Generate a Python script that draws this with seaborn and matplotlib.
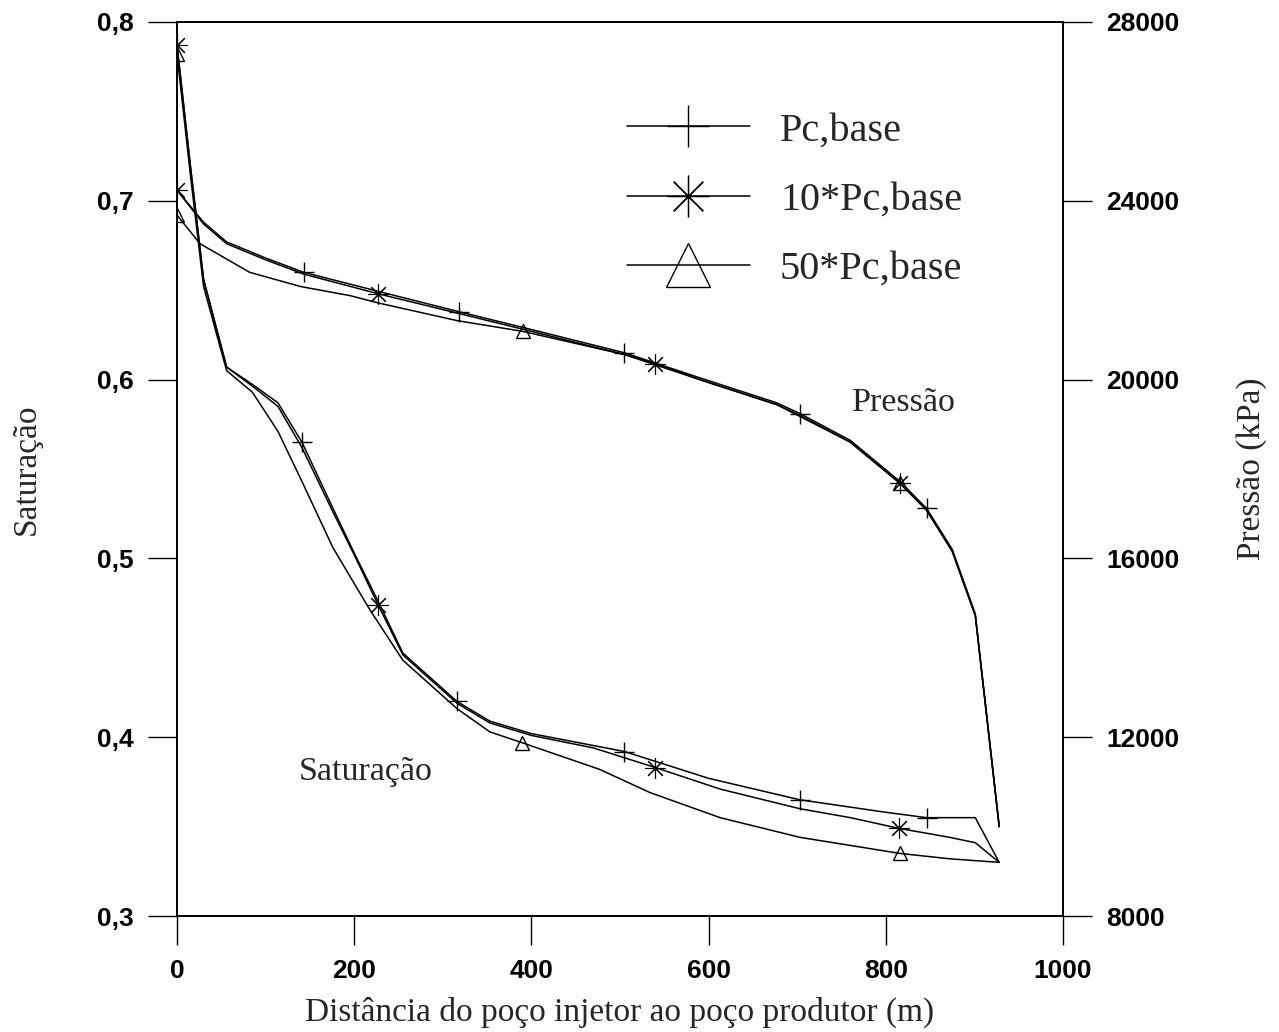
import numpy as np
import pandas as pd
import matplotlib
matplotlib.use("Agg")
import matplotlib.pyplot as plt
from matplotlib.lines import Line2D
from matplotlib.ticker import FixedLocator, FuncFormatter
from matplotlib.font_manager import FontProperties
import seaborn as sns

# --- Saturação (eixo esquerdo) ---
sat_base_x = [0, 15, 30, 56, 86, 114, 141, 176, 200, 227, 255, 316, 353, 400, 505, 600, 703, 800, 846, 901, 928]
sat_base_y = [0.787, 0.720, 0.656, 0.607, 0.597, 0.587, 0.565, 0.528, 0.503, 0.476, 0.447, 0.420, 0.409, 0.402,
              0.392, 0.377, 0.365, 0.358, 0.355, 0.355, 0.330]

sat_10_x = [0, 15, 30, 56, 86, 114, 141, 176, 200, 227, 255, 316, 353, 400, 470, 540, 613, 703, 760, 815, 872, 901, 928]
sat_10_y = [0.787, 0.720, 0.656, 0.607, 0.596, 0.585, 0.562, 0.526, 0.502, 0.474, 0.446, 0.419, 0.408, 0.401,
            0.394, 0.383, 0.371, 0.360, 0.355, 0.349, 0.344, 0.341, 0.330]

sat_50_x = [0, 15, 30, 56, 85, 114, 142, 176, 218, 255, 316, 353, 389, 477, 534, 613, 703, 816, 872, 928]
sat_50_y = [0.782, 0.715, 0.652, 0.605, 0.593, 0.571, 0.542, 0.506, 0.471, 0.443, 0.416, 0.403, 0.397, 0.382,
            0.369, 0.355, 0.344, 0.335, 0.332, 0.330]

# --- Pressão em kPa (eixo direito) ---
pres_base_x = [0, 30, 56, 100, 143, 230, 318, 400, 505, 590, 677, 703, 760, 816, 846, 875, 901, 928]
pres_base_y = [24240, 23520, 23080, 22720, 22400, 21960, 21520, 21120, 20600, 20040, 19480, 19240, 18640,
               17720, 17120, 16200, 14760, 10000]

pres_10_x = [0, 30, 56, 100, 143, 227, 318, 400, 505, 540, 590, 677, 703, 760, 816, 846, 875, 901, 928]
pres_10_y = [24240, 23480, 23040, 22680, 22360, 21920, 21480, 21080, 20560, 20360, 20000, 19440, 19200, 18600,
             17680, 17080, 16160, 14720, 10000]

pres_50_x = [0, 26, 82, 140, 195, 226, 316, 390, 505, 590, 677, 760, 816, 846, 875, 901, 928]
pres_50_y = [23680, 23040, 22400, 22080, 21880, 21720, 21320, 21080, 20560, 20000, 19440, 18600, 17680,
             17080, 16160, 14720, 10000]

series_labels = ["Pc,base", "10*Pc,base", "50*Pc,base"]
x_ticks = [0, 200, 400, 600, 800, 1000]
sat_ticks = [0.3, 0.4, 0.5, 0.6, 0.7, 0.8]
pres_ticks = [8000, 12000, 16000, 20000, 24000, 28000]

# pontos com símbolo em cada curva (índices)
sat_marks = [[6, 11, 14, 16, 18], [0, 9, 15, 19], [0, 12, 17]]
pres_marks = [[4, 6, 8, 11, 14], [0, 5, 9, 14], [0, 7, 12]]

sns.set_style("ticks")
plt.rcParams["font.family"] = ["Liberation Serif", "DejaVu Serif"]
plt.rcParams["axes.linewidth"] = 1.2

ASTER = (8, 2, 0)
styles = [
    dict(marker="+", markersize=15, mew=1.0),
    dict(marker=ASTER, markersize=15, mew=0.8),
    dict(marker="^", markersize=10, mew=1.0, mfc="none"),
]

fig = plt.figure(figsize=(12.79, 10.32), dpi=100)
ax = fig.add_axes([177 / 1279, 1 - 916 / 1032, 886 / 1279, 894 / 1032])
ax2 = ax.twinx()

sat_sets = [(sat_base_x, sat_base_y), (sat_10_x, sat_10_y), (sat_50_x, sat_50_y)]
pres_sets = [(pres_base_x, pres_base_y), (pres_10_x, pres_10_y), (pres_50_x, pres_50_y)]

for (xs, ys), marks, st in zip(sat_sets, sat_marks, styles):
    df = pd.DataFrame({"x": xs, "y": ys})
    sns.lineplot(data=df, x="x", y="y", ax=ax, color="k", lw=1.1, markevery=marks,
                 mec="k", estimator=None, legend=False, **st)

for (xs, ys), marks, st in zip(pres_sets, pres_marks, styles):
    df = pd.DataFrame({"x": xs, "y": ys})
    sns.lineplot(data=df, x="x", y="y", ax=ax2, color="k", lw=1.1, markevery=marks,
                 mec="k", estimator=None, legend=False, **st)

ax.set_xlim(0, 1000)
ax.set_ylim(0.3, 0.8)
ax2.set_ylim(8000, 28000)

tick_fp = FontProperties(family="Liberation Sans", size=19, weight="bold")
ax.xaxis.set_major_locator(FixedLocator(x_ticks))
ax.yaxis.set_major_locator(FixedLocator(sat_ticks))
ax2.yaxis.set_major_locator(FixedLocator(pres_ticks))
ax.yaxis.set_major_formatter(FuncFormatter(lambda v, p: f"{v:.1f}".replace(".", ",")))
ax.xaxis.set_major_formatter(FuncFormatter(lambda v, p: f"{v:.0f}"))
ax2.yaxis.set_major_formatter(FuncFormatter(lambda v, p: f"{v:.0f}"))

for a in (ax, ax2):
    a.tick_params(direction="out", length=21, width=1.0, pad=10, colors="k")
    for lab in a.get_xticklabels() + a.get_yticklabels():
        lab.set_fontproperties(tick_fp)
    for sp in a.spines.values():
        sp.set_visible(True)
        sp.set_color("k")
ax.minorticks_off()
ax2.minorticks_off()

ax.set_xlabel("Distância do poço injetor ao poço produtor (m)", fontsize=24, labelpad=10)
ax.set_ylabel("Saturação", fontsize=24, labelpad=40)
ax2.set_ylabel("Pressão (kPa)", fontsize=24, labelpad=41)

ax.text(762, 0.587, "Pressão", fontsize=24.5, ha="left", va="center")
ax.text(137, 0.3805, "Saturação", fontsize=24.5, ha="left", va="center")

handles = [
    Line2D([], [], color="k", lw=1.1, marker="+", markersize=30, mew=1.0),
    Line2D([], [], color="k", lw=1.1, marker=ASTER, markersize=30, mew=0.9),
    Line2D([], [], color="k", lw=1.1, marker="^", markersize=32, mew=1.0, mfc="none"),
]
fig.legend(handles, series_labels, loc="upper left", bbox_to_anchor=(627 / 1279, 1 - 112 / 1032),
           frameon=False, fontsize=29, handlelength=3.05, handletextpad=0.75, labelspacing=0.8,
           borderpad=0, borderaxespad=0, numpoints=1)

fig.savefig("out.png", dpi=100)
